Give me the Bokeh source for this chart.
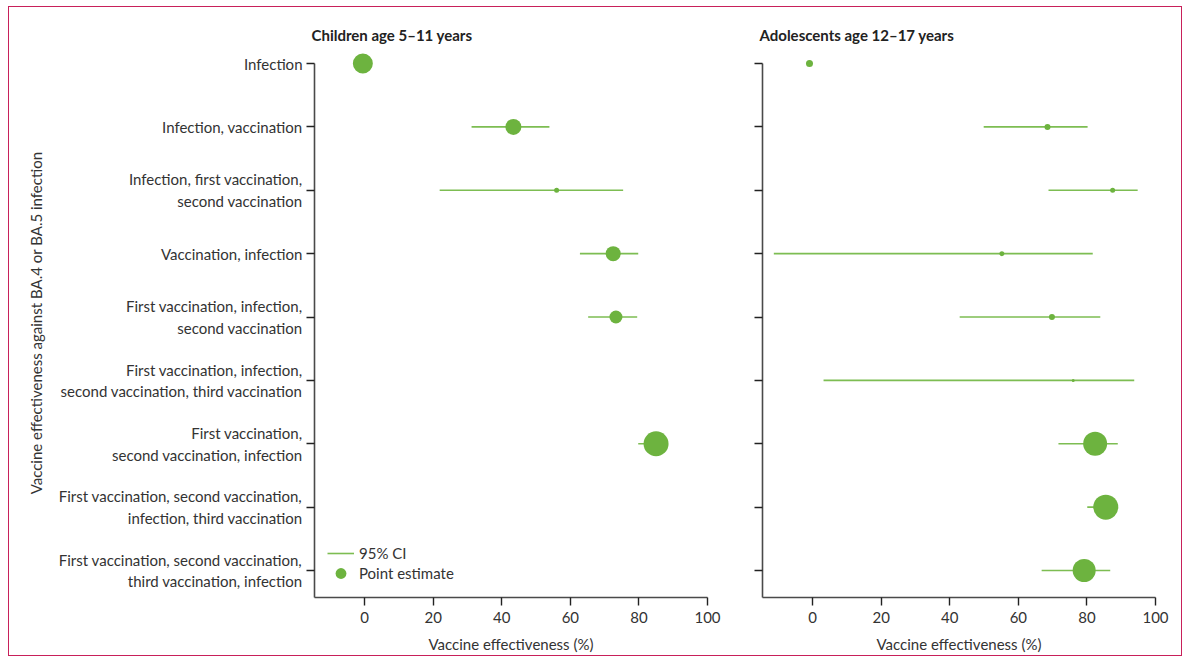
from bokeh.plotting import figure
from bokeh.models import Range1d, FixedTicker, Legend, LegendItem, ColumnDataSource
from bokeh.layouts import row
from bokeh.embed import file_html
from bokeh.resources import INLINE
import math

row_labels = [
    "Infection",
    "Infection, vaccination",
    "Infection, first vaccination,\nsecond vaccination",
    "Vaccination, infection",
    "First vaccination, infection,\nsecond vaccination",
    "First vaccination, infection,\nsecond vaccination, third vaccination",
    "First vaccination,\nsecond vaccination, infection",
    "First vaccination, second vaccination,\ninfection, third vaccination",
    "First vaccination, second vaccination,\nthird vaccination, infection",
]
x_ticks = [0, 20, 40, 60, 80, 100]
nan = float("nan")

# Children age 5-11 years
children_est = [-0.5, 43.4, 56.0, 72.5, 73.3, nan, 85.0, nan, nan]
children_lo = [nan, 31.2, 21.9, 62.8, 65.2, nan, 79.8, nan, nan]
children_hi = [nan, 53.9, 75.4, 79.8, 79.5, nan, 88.0, nan, nan]
children_weight = [20, 16, 5, 15, 13, nan, 25, nan, nan]

# Adolescents age 12-17 years
adol_est = [-0.9, 68.5, 87.5, 55.2, 69.8, 76.0, 82.4, 85.5, 79.2]
adol_lo = [nan, 49.9, 68.8, -11.3, 42.9, 3.2, 71.7, 80.1, 66.8]
adol_hi = [nan, 80.2, 94.8, 81.7, 83.9, 93.8, 89.0, 88.0, 86.8]
adol_weight = [7, 6, 5, 5, 6, 3, 24, 25, 23]

GREEN = "#6db33f"
CI_GREEN = "#7dbd52"
FONT = "Lato"
FS = "15px"
H = 648


def panel(title, est, lo, hi, wt, width, mbl, mbr, labels):
    p = figure(width=width, height=H, x_range=Range1d(-14.6, 100),
               y_range=Range1d(8.426, -0.237), output_backend="svg",
               toolbar_location=None, min_border_left=mbl, min_border_right=mbr,
               min_border_top=41, min_border_bottom=58, title=title)
    p.title.text_font = FONT
    p.title.text_font_size = FS
    p.title.text_font_style = "bold"
    p.title.text_color = "#222222"
    p.title.offset = -3
    p.outline_line_color = None
    p.xgrid.visible = False
    p.ygrid.visible = False
    p.background_fill_color = "white"
    p.border_fill_color = "white"

    ys = list(range(len(est)))
    ci = {"y": [], "lo": [], "hi": []}
    pt = {"y": [], "x": [], "s": []}
    for i in ys:
        if not math.isnan(lo[i]):
            ci["y"].append(i); ci["lo"].append(lo[i]); ci["hi"].append(hi[i])
        if not math.isnan(est[i]):
            pt["y"].append(i); pt["x"].append(est[i]); pt["s"].append(wt[i])
    seg = p.segment(x0="lo", x1="hi", y0="y", y1="y", source=ColumnDataSource(ci),
                    line_color=CI_GREEN, line_width=1.6)
    sc = p.scatter(x="x", y="y", size="s", source=ColumnDataSource(pt),
                   fill_color=GREEN, line_color=None)

    xa = p.xaxis[0]
    xa.ticker = FixedTicker(ticks=x_ticks)
    xa.axis_label = "Vaccine effectiveness (%)"
    ya = p.yaxis[0]
    ya.ticker = FixedTicker(ticks=ys)
    ya.bounds = (0, 8.426)
    if labels:
        ya.major_label_overrides = {i: lab for i, lab in enumerate(row_labels)}
        ya.axis_label = "Vaccine effectiveness against BA.4 or BA.5 infection"
    else:
        ya.major_label_overrides = {i: "" for i in ys}
    for ax in (xa, ya):
        ax.axis_line_color = "#4a4a4a"
        ax.axis_line_width = 1.6
        ax.major_tick_line_color = "#222222"
        ax.major_tick_line_width = 1.4
        ax.major_tick_in = 0
        ax.major_tick_out = 8
        ax.minor_tick_line_color = None
        ax.major_label_text_font = FONT
        ax.major_label_text_font_size = FS
        ax.major_label_text_color = "#333333"
        ax.axis_label_text_font = FONT
        ax.axis_label_text_font_size = FS
        ax.axis_label_text_font_style = "normal"
        ax.axis_label_text_color = "#333333"
    xa.major_label_standoff = 6
    xa.axis_label_standoff = 9
    ya.major_label_standoff = 4
    ya.axis_label_standoff = 11
    return p, seg, sc


left, seg_l, sc_l = panel("Children age 5\u201311 years", children_est, children_lo,
                          children_hi, children_weight, 731, 305, 33, True)
right, _, _ = panel("Adolescents age 12\u201317 years", adol_est, adol_lo, adol_hi,
                    adol_weight, 441, 22, 26, False)
left.yaxis[0].major_label_text_align = "center"

legend_style = dict(border_line_color=None, background_fill_alpha=0,
                    label_text_font=FONT, label_text_font_size=FS,
                    label_text_color="#333333", glyph_width=27, label_height=18,
                    padding=4, margin=0, label_standoff=5)
legend_ci = Legend(items=[LegendItem(label="95% CI", renderers=[seg_l], index=0)],
                   location=(13, 35), glyph_height=18, **legend_style)
legend_pt = Legend(items=[LegendItem(label="Point estimate", renderers=[sc_l], index=4)],
                   location=(13, 10), glyph_height=28, **legend_style)
left.add_layout(legend_ci)
left.add_layout(legend_pt)

layout = row(left, right, margin=(6, 0, 0, 8), styles={"border": "1px solid #c8205a"})
open("out.html", "w").write(file_html(layout, INLINE))
